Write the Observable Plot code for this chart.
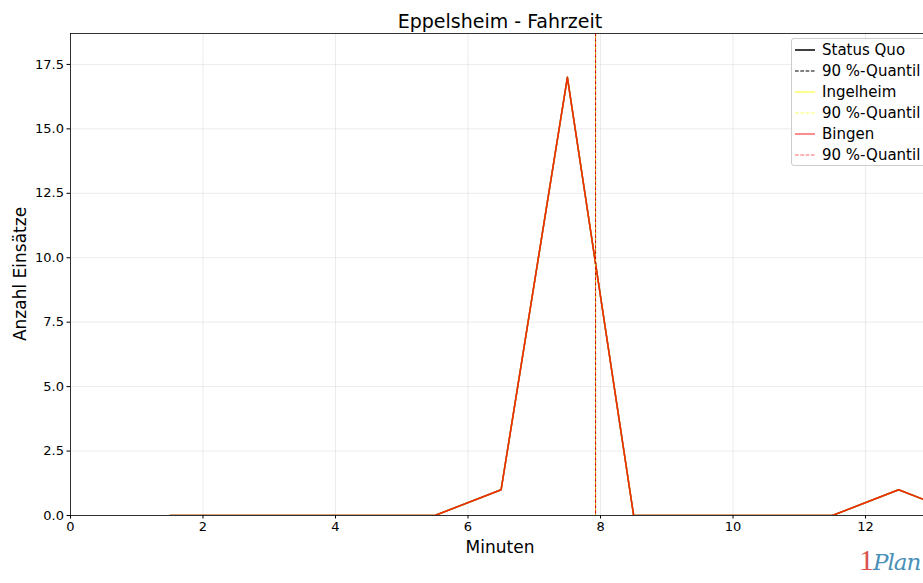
<!DOCTYPE html>
<html><head><meta charset="utf-8">
<script src="https://cdn.jsdelivr.net/npm/d3@7"></script>
<script src="https://cdn.jsdelivr.net/npm/@observablehq/plot@0.6"></script>
<style>
body{margin:0;background:#fff;font-family:"DejaVu Sans",sans-serif;}
#wrap{position:relative;width:923px;height:583px;overflow:hidden;background:#fff;}
#wrap > svg{position:absolute;left:0;top:0;}
.title{position:absolute;left:0;width:1000px;top:10px;text-align:center;font-size:19px;line-height:22px;color:#000;}
.ylab{position:absolute;left:20px;top:274px;transform:translate(-50%,-50%) rotate(-90deg);font-size:17px;white-space:nowrap;color:#000;}
.xlab{position:absolute;left:500px;top:547px;transform:translate(-50%,-50%);font-size:17px;white-space:nowrap;color:#000;}
.legend{position:absolute;left:791px;top:38px;width:160px;height:126px;border:1px solid #cccccc;border-radius:3px;background:rgba(255,255,255,0.8);}
.legend .row{position:absolute;left:0;height:21px;display:flex;align-items:center;font-size:15px;white-space:nowrap;color:#000;}
#wrap .legend svg{position:static;display:block;margin-left:2px;margin-right:6px;}
.logo{position:absolute;left:859px;top:543px;font-family:"DejaVu Serif",serif;font-style:italic;font-size:23px;line-height:34px;white-space:nowrap;letter-spacing:-1px;}
.logo .one{color:#d9534f;font-style:normal;font-family:"Liberation Serif",serif;font-size:30px;}
.logo .plan{color:#4a90b8;}
</style></head><body><div id="wrap"></div>
<script>
const minutes   = [1.5, 2.5, 3.5, 4.5, 5.5, 6.5, 7.5, 8.5, 9.5, 10.5, 11.5, 12.5, 13.5];
const statusQuo = [0, 0, 0, 0, 0, 1, 17, 0, 0, 0, 0, 1, 0];
const ingelheim = [0, 0, 0, 0, 0, 1, 17, 0, 0, 0, 0, 1, 0];
const bingen    = [0, 0, 0, 0, 0, 1, 17, 0, 0, 0, 0, 1, 0];
const seriesNames = ["Status Quo", "Ingelheim", "Bingen"];
const quantile90 = [7.925, 7.925, 7.925];
const legendLabels = ["Status Quo", "90 %-Quantil", "Ingelheim", "90 %-Quantil", "Bingen", "90 %-Quantil"];
const xTicks = [0, 2, 4, 6, 8, 10, 12];
const yTicks = [0, 2.5, 5, 7.5, 10, 12.5, 15, 17.5];

const seriesValues = [statusQuo, ingelheim, bingen];
const colors = ["#000000", "#ffff00", "#ff0000"];
const opac = [1, 0.8, 0.8];
const yMax = 18.7;

const lineMarks = seriesNames.map((name, i) => {
  const rows = minutes.map((m, j) => ({series: name, minute: m, count: seriesValues[i][j]}));
  return Plot.line(rows, {x: "minute", y: "count", stroke: colors[i], strokeOpacity: opac[i], strokeWidth: 1.5, clip: true});
});
const quantMarks = seriesNames.map((name, i) =>
  Plot.ruleX([quantile90[i]], {y1: 0, y2: yMax, stroke: colors[i], strokeOpacity: opac[i], strokeWidth: 1, strokeDasharray: "3.7,1.6", strokeDashoffset: i * 1.8})
);

const chart = Plot.plot({
  width: 923, height: 583,
  marginTop: 33, marginBottom: 68, marginLeft: 70, marginRight: 0,
  style: {fontFamily: "DejaVu Sans, sans-serif", fontSize: "13px", color: "#000", background: "transparent"},
  x: {domain: [0, 12.875]},
  y: {domain: [0, yMax]},
  marks: [
    Plot.gridX(xTicks, {stroke: "#b0b0b0", strokeOpacity: 0.3, strokeWidth: 0.8}),
    Plot.gridY(yTicks, {stroke: "#b0b0b0", strokeOpacity: 0.3, strokeWidth: 0.8}),
    ...lineMarks,
    ...quantMarks,
    Plot.axisX(xTicks, {tickSize: 3.5, tickPadding: 3, fontSize: 13, tickFormat: d => String(d), label: null, stroke: "#000"}),
    Plot.axisY(yTicks, {tickSize: 3.5, tickPadding: 3, fontSize: 13, tickFormat: d3.format(".1f"), label: null, stroke: "#000"}),
    Plot.ruleY([0], {stroke: "#000", strokeWidth: 0.8}),
    Plot.ruleY([yMax], {stroke: "#000", strokeWidth: 0.8}),
    Plot.ruleX([0], {stroke: "#000", strokeWidth: 0.8})
  ]
});

const wrap = document.getElementById("wrap");
wrap.appendChild(chart);

const t = document.createElement("div"); t.className = "title"; t.textContent = "Eppelsheim - Fahrzeit"; wrap.appendChild(t);
const yl = document.createElement("div"); yl.className = "ylab"; yl.textContent = "Anzahl Einsätze"; wrap.appendChild(yl);
const xl = document.createElement("div"); xl.className = "xlab"; xl.textContent = "Minuten"; wrap.appendChild(xl);

const lg = document.createElement("div"); lg.className = "legend";
legendLabels.forEach((lab, k) => {
  const i = Math.floor(k / 2), dashed = k % 2 === 1;
  const row = document.createElement("div"); row.className = "row"; row.style.top = (k * 21) + "px";
  const ns = "http://www.w3.org/2000/svg";
  const s = document.createElementNS(ns, "svg"); s.setAttribute("width", 22); s.setAttribute("height", 6);
  const l = document.createElementNS(ns, "line");
  l.setAttribute("x1", 1); l.setAttribute("x2", 21); l.setAttribute("y1", 3); l.setAttribute("y2", 3);
  l.setAttribute("stroke", colors[i]); l.setAttribute("stroke-opacity", i === 0 ? 1 : 0.6);
  l.setAttribute("stroke-width", dashed ? 1.2 : 1.5);
  if (dashed) l.setAttribute("stroke-dasharray", "3.7,1.6");
  s.appendChild(l); row.appendChild(s);
  const sp = document.createElement("span"); sp.textContent = lab; row.appendChild(sp);
  lg.appendChild(row);
});
wrap.appendChild(lg);

const logo = document.createElement("div"); logo.className = "logo";
logo.innerHTML = '<span class="one">1</span><span class="plan">Plan</span>';
wrap.appendChild(logo);
</script></body></html>
